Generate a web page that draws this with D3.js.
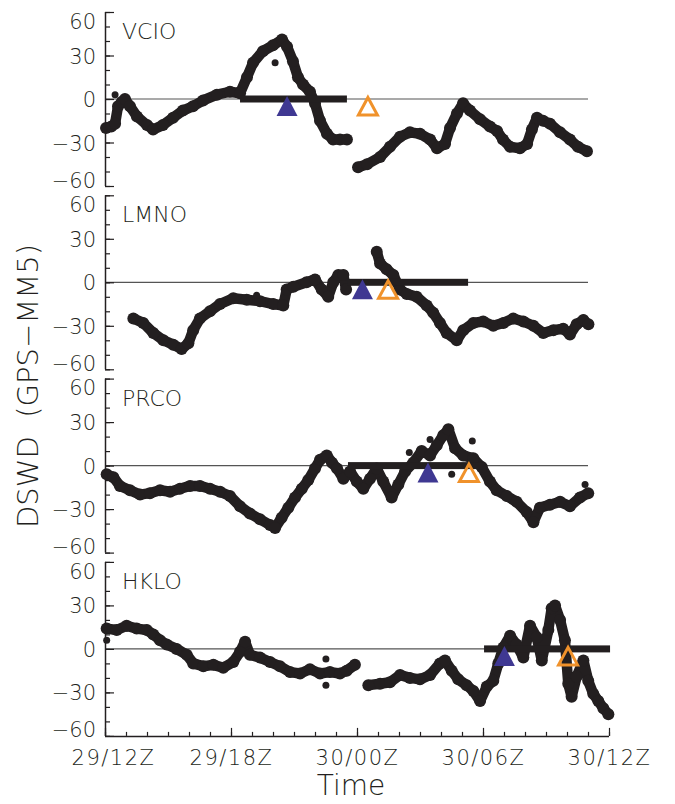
<!DOCTYPE html>
<html>
<head>
<meta charset="utf-8">
<title>DSWD (GPS-MM5)</title>
<script src="https://cdn.jsdelivr.net/npm/d3@7/dist/d3.min.js"></script>
<style>
  body { margin: 0; background: #fff; }
  svg text { font-family: "DejaVu Sans ExtraLight", "DejaVu Sans", sans-serif; font-weight: 200; fill: #231f20; }
</style>
</head>
<body>
<div id="chart"></div>
<script>
// hours after 29/12Z, DSWD values (null = gap in the record)
const stations = ["VCIO", "LMNO", "PRCO", "HKLO"];

const vcioT = [0.05,0.3,0.48,0.62,0.8,0.95,1.19,1.52,2.0,2.29,2.76,3.24,3.71,4.19,4.67,5.33,5.95,6.43,6.76,7.05,7.52,8.0,8.43,8.67,8.95,9.19,9.43,9.76,10.0,10.24,10.57,10.86,11.19,11.52,11.8,12.05,12.48,13.1,13.57,14.05,14.52,15.0,15.48,15.81,16.19,16.43,16.76,17.05,17.38,17.86,18.33,18.67,18.95,19.29,19.76,20.1,20.33,20.57,20.86,21.19,21.67,22.14,22.52,22.95];
const vcioV = [-20,-19,-17,-5,-2,0,-5,-12,-18,-21,-18,-13,-8,-5,-1,3,5,4,15,25,33,37,41,36,26,15,10,5,-3,-15,-24,-28,-28,-28,null,-47,-45,-40,-33,-26,-23,-24,-28,-34,-31,-20,-10,-3,-8,-14,-19,-22,-28,-33,-34,-31,-21,-13,-15,-17,-23,-28,-33,-36];

const lmnoT = [1.35,1.82,2.3,2.78,3.25,3.65,3.97,4.2,4.52,5.0,5.48,6.11,6.75,7.38,8.01,8.49,8.65,8.97,9.6,10.0,10.32,10.63,10.87,11.11,11.35,11.48,12.2,12.94,13.1,13.41,13.73,14.05,14.37,14.84,15.32,15.63,15.95,16.27,16.75,17.06,17.54,18.01,18.49,18.97,19.44,19.92,20.4,20.87,21.35,21.82,22.14,22.46,22.78,23.02];
const lmnoV = [-25,-28,-35,-40,-43,-46,-42,-33,-25,-20,-15,-11,-12,-13,-15,-16,-5,-3,0,2,-5,-10,0,5,5,-5,null,21,13,9,5,-5,-8,-10,-16,-21,-28,-35,-40,-33,-28,-27,-30,-28,-25,-27,-30,-35,-33,-32,-36,-29,-26,-29];

const prcoT = [0.08,0.4,0.71,1.19,1.67,2.14,2.62,3.1,3.57,4.05,4.52,5.0,5.48,5.95,6.43,6.9,7.38,7.86,8.1,8.41,8.73,9.05,9.37,9.68,10.0,10.24,10.56,10.81,11.05,11.35,11.67,11.99,12.3,12.62,12.94,13.25,13.65,13.97,14.29,14.68,15.08,15.48,15.8,16.11,16.35,16.67,17.06,17.54,17.94,18.33,18.65,19.13,19.6,20.08,20.4,20.71,21.19,21.67,22.14,22.62,23.01];
const prcoV = [-6,-8,-14,-17,-20,-19,-17,-18,-16,-14,-14,-16,-18,-21,-28,-33,-37,-41,-43,-36,-29,-22,-16,-10,-2,4,7,2,-2,-9,-4,-11,-16,-9,-2,-11,-22,-13,-4,2,10,7,14,21,25,12,7,5,-1,-11,-17,-21,-25,-32,-39,-29,-27,-25,-28,-22,-19];

const hkloT = [0.08,0.56,1.03,1.51,1.99,2.3,2.62,2.94,3.41,3.89,4.2,4.68,5.16,5.63,6.11,6.43,6.67,6.9,7.38,7.86,8.33,8.81,9.29,9.76,10.24,10.71,11.19,11.51,11.9,12.2,12.54,13.1,13.57,14.05,14.52,15.0,15.48,15.95,16.19,16.51,16.82,17.22,17.54,17.86,18.18,18.49,18.73,18.97,19.29,19.6,19.92,20.24,20.56,20.8,21.11,21.27,21.43,21.67,21.9,22.06,22.22,22.46,22.78,23.01,23.25,23.49,23.73,23.97];
const hkloV = [14,13,16,14,13,10,6,3,0,-4,-10,-12,-11,-13,-9,-2,5,-4,-6,-9,-12,-16,-17,-14,-17,-16,-17,-15,-11,null,-25,-24,-23,-18,-20,-21,-18,-10,-8,-15,-21,-25,-29,-36,-26,-22,-10,1,9,3,-6,16,8,-8,13,28,30,20,6,-24,-33,-19,-8,-22,-31,-36,-41,-45];

// isolated points off the main band
const outT = [[0.48, 8.1], [7.22], [14.49, 15.48, 17.49, 16.51, 22.86], [0.08, 10.52, 10.52]];
const outV = [[3, 25], [-9], [9, 18, 17, -6, -13], [6, -7, -25]];

// thick bars on the zero line and triangle markers (hours after 29/12Z)
const barStart = [6.43, 11.57, 11.57, 18.05];
const barEnd = [11.52, 17.29, 18.0, 24.05];
const blueT = [8.67, 12.26, 15.38, 19.02];
const orangeT = [12.52, 13.48, 17.33, 22.05];
const zeroEnd = [23, 23, 23, 24];

const timeTicks = [0, 6, 12, 18, 24];
const timeLabels = ["29/12Z", "29/18Z", "30/00Z", "30/06Z", "30/12Z"];
const yTicks = [-60, -30, 0, 30, 60];

const seriesT = [vcioT, lmnoT, prcoT, hkloT];
const seriesV = [vcioV, lmnoV, prcoV, hkloV];

const width = 675, height = 804;
const panelTop = 12, panelH = 174, panelStep = 183.3;
const ink = "#231f20";

const svg = d3.select("#chart").append("svg")
    .attr("width", width)
    .attr("height", height);

const x = d3.scaleLinear().domain([0, 24]).range([105, 609]);

const tri = "M0,-10L10.5,10L-10.5,10Z";
const triOpen = "M0,-8.5L9.5,9L-9.5,9Z";

stations.forEach(function(name, i) {
    const top = panelTop + i * panelStep;
    const y = d3.scaleLinear().domain([-60, 60]).range([top + panelH, top]);
    const g = svg.append("g");

    // zero line
    g.append("line")
        .attr("x1", x(0)).attr("x2", x(zeroEnd[i]))
        .attr("y1", y(0)).attr("y2", y(0))
        .attr("stroke", "#555").attr("stroke-width", 1.2);

    // y axis, ticks pointing inward
    g.append("g")
        .attr("transform", `translate(${x(0)},0)`)
        .call(d3.axisLeft(y).tickValues(d3.range(-60, 61, 10)).tickSize(-5).tickFormat(""))
        .call(a => a.select(".domain").remove())
        .call(a => a.selectAll("line").attr("stroke", ink).attr("stroke-width", 1.2));
    g.append("g")
        .attr("transform", `translate(${x(0)},0)`)
        .call(d3.axisLeft(y).tickValues(yTicks).tickSize(-9).tickPadding(9))
        .call(a => a.select(".domain").attr("d", `M0.5,${y(60)}V${y(-60)}`).attr("stroke", ink).attr("stroke-width", 1.5))
        .call(a => a.selectAll("line").attr("stroke", ink).attr("stroke-width", 1.2))
        .call(a => a.selectAll("text")
            .attr("font-size", 21).attr("font-family", null)
            .attr("dy", d => d == 60 ? "0.78em" : d == -60 ? "0.05em" : "0.36em"));

    // station name
    g.append("text")
        .attr("x", 122).attr("y", y(60) + 27)
        .attr("font-size", 22)
        .text(name);

    // data band
    const pts = seriesT[i].map((t, k) => [t, seriesV[i][k]]);
    const line = d3.line()
        .defined(d => d[1] !== null)
        .x(d => x(d[0])).y(d => y(d[1]))
        .curve(d3.curveLinear);
    g.append("path")
        .datum(pts)
        .attr("d", line)
        .attr("fill", "none")
        .attr("stroke", ink)
        .attr("stroke-width", 10.5)
        .attr("stroke-linejoin", "round")
        .attr("stroke-linecap", "round");
    g.selectAll("circle.pt")
        .data(pts.filter(d => d[1] !== null))
        .join("circle")
        .attr("class", "pt")
        .attr("cx", d => x(d[0])).attr("cy", d => y(d[1]))
        .attr("r", 6)
        .attr("fill", ink);
    g.selectAll("circle.out")
        .data(outT[i].map((t, k) => [t, outV[i][k]]))
        .join("circle")
        .attr("class", "out")
        .attr("cx", d => x(d[0])).attr("cy", d => y(d[1]))
        .attr("r", 3.5)
        .attr("fill", ink);

    // thick bar
    g.append("rect")
        .attr("x", x(barStart[i]))
        .attr("width", x(barEnd[i]) - x(barStart[i]))
        .attr("y", y(0) - 3.5)
        .attr("height", 7)
        .attr("fill", ink);

    // triangles
    g.append("path")
        .attr("d", tri)
        .attr("transform", `translate(${x(blueT[i])},${y(0) + 7})`)
        .attr("fill", "#3f3892");
    g.append("path")
        .attr("d", triOpen)
        .attr("transform", `translate(${x(orangeT[i])},${y(0) + 7})`)
        .attr("fill", "none")
        .attr("stroke", "#f0922b")
        .attr("stroke-width", 3);

    // time axis on the bottom panel
    if (i == stations.length - 1) {
        const xg = svg.append("g").attr("transform", `translate(0,${y(-60)})`);
        xg.call(d3.axisBottom(x).tickValues(d3.range(0, 25, 1)).tickSize(-4).tickFormat(""))
            .call(a => a.select(".domain").attr("d", `M${x(0)},0.5H${x(24)}`).attr("stroke", ink).attr("stroke-width", 1.5))
            .call(a => a.selectAll("line").attr("stroke", ink).attr("stroke-width", 1.2));
        const xg2 = svg.append("g").attr("transform", `translate(0,${y(-60)})`);
        xg2.call(d3.axisBottom(x).tickValues(timeTicks).tickSize(-8).tickPadding(14)
                .tickFormat((d, k) => timeLabels[k]))
            .call(a => a.select(".domain").remove())
            .call(a => a.selectAll("line").attr("stroke", ink).attr("stroke-width", 1.2))
            .call(a => a.selectAll("text")
                .attr("font-size", 21).attr("font-family", null)
                .attr("letter-spacing", 1.5)
                .attr("dx", d => d == 0 ? 8 : 0));
    }
});

// axis titles
svg.append("text")
    .attr("x", 351).attr("y", 795)
    .attr("text-anchor", "middle")
    .attr("font-size", 28)
    .text("Time");

svg.append("text")
    .attr("transform", "translate(38,386) rotate(-90)")
    .attr("text-anchor", "middle")
    .attr("font-size", 29)
    .style("white-space", "pre")
    .text("DSWD  (GPS\u2212MM5)");
</script>
</body>
</html>
